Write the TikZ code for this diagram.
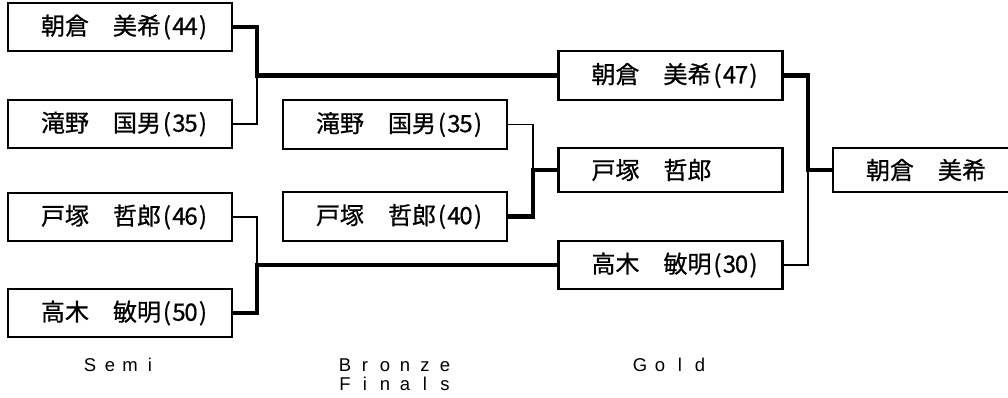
\documentclass[tikz,border=0pt]{standalone}
\usepackage{fontspec}
\newfontfamily\jpfont[FakeBold=0.6]{Noto Sans CJK JP}
\newfontfamily\lblfont{Liberation Sans}
\newcommand\nmtext[1]{\makebox[224pt][l]{\hspace{33pt}#1}}
\newcommand\hwc[1]{\makebox[12pt][c]{#1}}
\newcommand\score[2]{\hwc{(}\hwc{#1}\hwc{#2}\hwc{)}}
\newcommand\lcell[1]{\makebox[20pt][c]{\lblfont\fontsize{18.5}{20}\selectfont #1}}
\tikzset{
  entrybox/.style={draw, line width=2.2pt, minimum width=224pt, minimum height=48pt,
    inner xsep=0pt, inner ysep=0pt, font=\jpfont\fontsize{24}{24}\selectfont},
  shortbox/.style={entrybox, minimum height=44pt},
  winline/.style={line width=4.2pt},
  loseline/.style={line width=1.4pt},
  roundlabel/.style={font=\lblfont\fontsize{18.5}{20}\selectfont, inner sep=0pt}
}
\begin{document}
\begin{tikzpicture}[x=1pt,y=-1pt]
\useasboundingbox (0,0) rectangle (1008,397);
% semi
\node[entrybox] (s1) at (120,27) {\nmtext{朝倉　美希\score{4}{4}}};
\node[entrybox] (s2) at (120,124) {\nmtext{滝野　国男\score{3}{5}}};
\node[entrybox] (s3) at (120,217) {\nmtext{戸塚　哲郎\score{4}{6}}};
\node[entrybox] (s4) at (120,313) {\nmtext{高木　敏明\score{5}{0}}};
% bronze
\node[entrybox, minimum height=49pt] (b1) at (395,124.5) {\nmtext{滝野　国男\score{3}{5}}};
\node[entrybox, minimum height=49pt] (b2) at (395,216.5) {\nmtext{戸塚　哲郎\score{4}{0}}};
% gold
\node[entrybox, minimum height=49pt] (g1) at (670.5,75.5) {\nmtext{朝倉　美希\score{4}{7}}};
\node[shortbox] (g2) at (670.5,170) {\nmtext{戸塚　哲郎}};
\node[entrybox] (g3) at (670.5,265) {\nmtext{高木　敏明\score{3}{0}}};
% final
\node[shortbox] (f) at (945,170) {\nmtext{朝倉　美希}};
% junctions
\coordinate (j1) at (257,75.5);
\coordinate (j2) at (257,265);
\coordinate (j3) at (533,170);
\coordinate (j4) at (808,170);
% connectors
\draw[loseline] (s2.east) -| (j1);
\draw[winline] (s1.east) -| (j1) -- (g1.west);
\draw[loseline] (s3.east) -| (j2);
\draw[winline] (s4.east) -| (j2) -- (g3.west);
\draw[loseline] (b1.east) -| (j3);
\draw[winline] (b2.east) -| (j3) -- (g2.west);
\draw[loseline] (g3.east) -| (j4);
\draw[winline] (g1.east) -| (j4) -- (f.west);
% round labels
\node[roundlabel, anchor=base] (lsemi) at (120,371) {\lcell{S}\lcell{e}\lcell{m}\lcell{i}};
\node[roundlabel, anchor=base] (lbronze) at (395,371) {\lcell{B}\lcell{r}\lcell{o}\lcell{n}\lcell{z}\lcell{e}};
\node[roundlabel, anchor=base] (lfinals) at (395,390) {\lcell{F}\lcell{i}\lcell{n}\lcell{a}\lcell{l}\lcell{s}};
\node[roundlabel, anchor=base] (lgold) at (670,371) {\lcell{G}\lcell{o}\lcell{l}\lcell{d}};
\end{tikzpicture}
\end{document}
